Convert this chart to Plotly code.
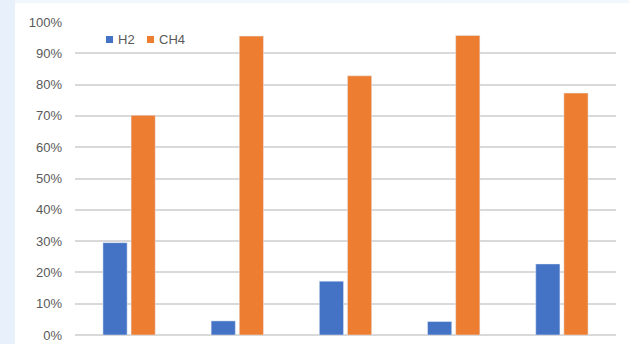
import plotly.graph_objects as go

categories = ["1", "2", "3", "4", "5"]
h2 = [0.295, 0.045, 0.172, 0.043, 0.227]
ch4 = [0.702, 0.955, 0.828, 0.957, 0.773]
series_names = ["H2", "CH4"]
series_colors = ["#4472C4", "#ED7D31"]
tick_vals = [i / 10 for i in range(11)]
tick_text = [f"{i*10}%" for i in range(11)]

fig = go.Figure()
fig.add_trace(go.Bar(name=series_names[0], x=categories, y=h2, marker_color=series_colors[0]))
fig.add_trace(go.Bar(name=series_names[1], x=categories, y=ch4, marker_color=series_colors[1]))

W, H = 629, 344
L, R, T, B = 75, 13, 22, 9
pw, ph = W - L - R, H - T - B


def px(x):
    return (x - L) / pw


def py(y):
    return (H - B - y) / ph


# background frame strips
fig.add_shape(type="rect", xref="paper", yref="paper",
              x0=px(0), x1=px(15), y0=py(H), y1=py(0),
              fillcolor="#e7f0fb", line_width=0, layer="below")
fig.add_shape(type="rect", xref="paper", yref="paper",
              x0=px(15), x1=px(W), y0=py(3), y1=py(0),
              fillcolor="#f2f7fd", line_width=0, layer="below")

# legend (squares + text)
legend_sq_x = [106, 147]
legend_tx_x = [116, 157]
for name, col, sx, tx in zip(series_names, series_colors, legend_sq_x, legend_tx_x):
    fig.add_shape(type="rect", xref="paper", yref="paper",
                  x0=px(sx), x1=px(sx + 7), y0=py(43), y1=py(36),
                  fillcolor=col, line_width=0)
    fig.add_annotation(xref="paper", yref="paper", x=px(tx), y=py(39.5),
                       text=name, showarrow=False, xanchor="left", yanchor="middle",
                       font=dict(size=13, color="#595959"))

fig.update_layout(
    width=W, height=H, autosize=False,
    margin=dict(l=L, r=R, t=T, b=B, autoexpand=False),
    paper_bgcolor="white", plot_bgcolor="white",
    barmode="group", bargap=0.48, bargroupgap=0.14,
    font=dict(family="Liberation Sans, Arial, sans-serif", size=13, color="#595959"),
    showlegend=False,
    xaxis=dict(showticklabels=False, showgrid=False, zeroline=False, showline=False,
               ticks="", automargin=False),
    yaxis=dict(range=[0, 1.0], tickvals=tick_vals, ticktext=tick_text,
               showgrid=True, gridcolor="#d9d9d9", gridwidth=1.5,
               zeroline=True, zerolinecolor="#d9d9d9", zerolinewidth=1.5,
               showline=False, ticks="", ticklabelstandoff=12, automargin=False),
)
fig.write_html("out.html")
